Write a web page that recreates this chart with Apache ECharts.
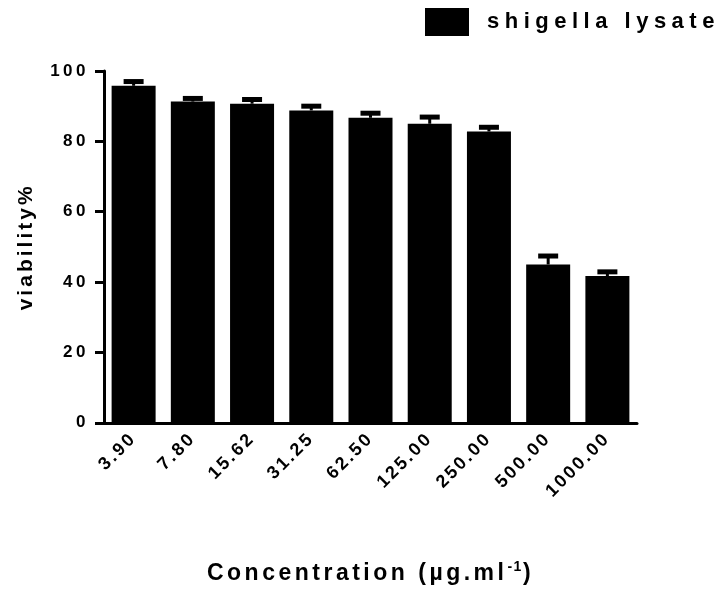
<!DOCTYPE html>
<html>
<head>
<meta charset="utf-8">
<script src="https://cdn.jsdelivr.net/npm/echarts@6/dist/echarts.min.js"></script>
<style>
html,body{margin:0;padding:0;background:#fff;}
#chart{width:721px;height:592px;}
</style>
</head>
<body>
<div id="chart"></div>
<script>
// ---- data ----
var categories = ['3.90', '7.80', '15.62', '31.25', '62.50', '125.00', '250.00', '500.00', '1000.00'];
var viability = [95.8, 91.3, 90.7, 88.8, 86.7, 85.0, 82.8, 45.0, 41.7];
var errors = [1.2, 0.9, 1.2, 1.2, 1.3, 1.9, 1.2, 2.4, 1.2];
var seriesName = 'shigella lysate';

// ---- letter spacing (wide tracking of the original typography), keyed by font size ----
var SPACING = {17: 3.5, 18: 2.5, 22: 5.5, 23: 3.5, 21: 3, 14: 1.5};
(function () {
  var proto = window.CanvasRenderingContext2D && CanvasRenderingContext2D.prototype;
  if (!proto) return;
  var d = Object.getOwnPropertyDescriptor(proto, 'font');
  if (!d || !('letterSpacing' in proto)) return;
  Object.defineProperty(proto, 'font', {
    configurable: true,
    get: function () { return d.get.call(this); },
    set: function (v) {
      d.set.call(this, v);
      var m = /(\d+(?:\.\d+)?)px/.exec(v);
      var s = m ? Math.round(parseFloat(m[1])) : 12;
      this.letterSpacing = (SPACING[s] || 0) + 'px';
    }
  });
})();

var FONT = 'Liberation Sans, Arial, sans-serif';
var chart = echarts.init(document.getElementById('chart'), null, {renderer: 'canvas'});

var errData = viability.map(function (v, i) { return [i, v, errors[i]]; });

chart.setOption({
  animation: false,
  backgroundColor: '#fff',
  textStyle: {fontFamily: FONT, color: '#000'},
  legend: {
    data: [seriesName],
    left: 425,
    top: 8,
    padding: 0,
    icon: 'rect',
    itemWidth: 44,
    itemHeight: 28,
    textStyle: {fontFamily: FONT, fontSize: 22, fontWeight: 'bold', color: '#000', padding: [0, 0, 0, 13]}
  },
  grid: {left: 104, right: 84, top: 71, bottom: 166, containLabel: false},
  xAxis: {
    type: 'category',
    data: categories,
    name: 'Concentration (µg.ml{sup|-1})',
    nameLocation: 'middle',
    nameGap: 137,
    nameTextStyle: {
      fontFamily: FONT, fontSize: 23, fontWeight: 'bold', color: '#000', verticalAlign: 'top',
      rich: {sup: {fontFamily: FONT, fontSize: 14, fontWeight: 'bold', color: '#000', verticalAlign: 'top', lineHeight: 28}}
    },
    axisLine: {lineStyle: {color: '#000', width: 3}},
    axisTick: {alignWithLabel: true, length: 10, lineStyle: {color: '#000', width: 3}},
    axisLabel: {rotate: 45, margin: 13, fontFamily: FONT, fontSize: 18, fontWeight: 'bold', color: '#000', interval: 0},
    splitLine: {show: false}
  },
  yAxis: {
    type: 'value',
    min: 0,
    max: 100,
    interval: 20,
    name: 'viability%',
    nameLocation: 'middle',
    nameGap: 66,
    nameRotate: 90,
    nameTextStyle: {fontFamily: FONT, fontSize: 21, fontWeight: 'bold', color: '#000'},
    axisLine: {show: true, lineStyle: {color: '#000', width: 3}},
    axisTick: {show: true, length: 9, lineStyle: {color: '#000', width: 3}},
    axisLabel: {margin: 15, fontFamily: FONT, fontSize: 17, fontWeight: 'bold', color: '#000'},
    splitLine: {show: false}
  },
  series: [
    {
      name: seriesName,
      type: 'bar',
      data: viability,
      barWidth: 44,
      itemStyle: {color: '#000'},
      z: 2
    },
    {
      name: 'error',
      type: 'custom',
      data: errData,
      z: 3,
      renderItem: function (params, api) {
        var x = api.value(0);
        var top = api.coord([x, api.value(1) + api.value(2)]);
        var base = api.coord([x, api.value(1)]);
        var half = 10;
        return {
          type: 'group',
          children: [
            {type: 'line', shape: {x1: base[0], y1: base[1], x2: top[0], y2: top[1]}, style: {stroke: '#000', lineWidth: 3}},
            {type: 'line', shape: {x1: top[0] - half, y1: top[1], x2: top[0] + half, y2: top[1]}, style: {stroke: '#000', lineWidth: 5}}
          ]
        };
      }
    }
  ]
});
</script>
</body>
</html>
